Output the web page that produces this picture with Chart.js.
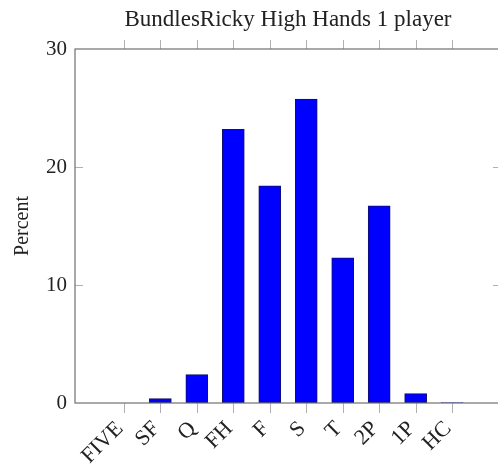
<!DOCTYPE html>
<html>
<head>
<meta charset="utf-8">
<script src="https://cdn.jsdelivr.net/npm/chart.js@4"></script>
<style>
  html, body { margin: 0; padding: 0; background: #fff; overflow: hidden; width: 498px; height: 466px; }
  canvas { display: block; }
</style>
</head>
<body>
<canvas id="chart" width="504" height="466"></canvas>
<script>
// ===== DADOS =====
const categories = ['FIVE', 'SF', 'Q', 'FH', 'F', 'S', 'T', '2P', '1P', 'HC'];
const percentValues = [0, 0.37, 2.4, 23.2, 18.4, 25.75, 12.3, 16.7, 0.8, 0.03];
const yTicks = [0, 10, 20, 30];
const chartTitle = 'BundlesRicky High Hands 1 player';

const serif = '"Liberation Serif", "DejaVu Serif", serif';
const textColor = '#222';

// Moldura, marcas de escala e titulo no estilo pgfplots
const framePlugin = {
    id: 'frame',
    afterDraw(chart) {
        const ctx = chart.ctx;
        const area = chart.chartArea;
        const x = chart.scales.x;
        const y = chart.scales.y;
        ctx.save();
        ctx.lineWidth = 1;
        ctx.strokeStyle = '#b0b0b0';
        categories.forEach((c, i) => {
            const px = Math.round(x.getPixelForValue(i)) + 0.5;
            ctx.beginPath();
            ctx.moveTo(px, area.bottom);
            ctx.lineTo(px, area.bottom + 10);
            ctx.moveTo(px, area.top);
            ctx.lineTo(px, area.top - 9);
            ctx.stroke();
        });
        yTicks.slice(1, -1).forEach(v => {
            const py = Math.round(y.getPixelForValue(v)) + 0.5;
            ctx.beginPath();
            ctx.moveTo(area.left, py);
            ctx.lineTo(area.left + 8, py);
            ctx.moveTo(area.right, py);
            ctx.lineTo(area.right - 8, py);
            ctx.stroke();
        });
        ctx.strokeStyle = '#707070';
        ctx.lineWidth = 1.2;
        ctx.strokeRect(area.left, area.top, area.right - area.left, area.bottom - area.top);

        // titulo centrado sobre a area do grafico
        ctx.fillStyle = textColor;
        ctx.font = '23px ' + serif;
        ctx.textAlign = 'center';
        ctx.textBaseline = 'alphabetic';
        ctx.fillText(chartTitle, (area.left + area.right) / 2, 26);
        ctx.restore();
    }
};

new Chart(document.getElementById('chart'), {
    type: 'bar',
    data: {
        datasets: [{
            data: percentValues.map((v, i) => ({ x: i, y: v })),
            backgroundColor: '#0000ff',
            borderColor: '#10106e',
            borderWidth: 1,
            borderSkipped: false,
            barThickness: 22
        }]
    },
    options: {
        responsive: false,
        animation: false,
        layout: { padding: { left: 0, right: 3, top: 49, bottom: 0 } },
        plugins: {
            legend: { display: false },
            tooltip: { enabled: false },
            title: { display: false }
        },
        scales: {
            x: {
                type: 'linear',
                offset: false,
                min: -1.34,
                max: 10.34,
                grid: { display: false },
                border: { display: false },
                afterBuildTicks: s => { s.ticks = categories.map((c, i) => ({ value: i })); },
                afterFit: s => { s.height = 63; },
                ticks: {
                    autoSkip: false,
                    minRotation: 45,
                    maxRotation: 45,
                    padding: 5,
                    labelOffset: -4,
                    color: textColor,
                    font: { family: serif, size: 22 },
                    callback: v => categories[v]
                }
            },
            y: {
                min: 0,
                max: 30,
                grid: { display: false },
                border: { display: false },
                afterBuildTicks: s => { s.ticks = yTicks.map(v => ({ value: v })); },
                afterFit: s => { s.width = 75; },
                ticks: {
                    padding: 0,
                    color: textColor,
                    font: { family: serif, size: 21 }
                },
                title: {
                    display: true,
                    text: 'Percent',
                    color: textColor,
                    font: { family: serif, size: 20 },
                    padding: { top: 11, bottom: 0 }
                }
            }
        }
    },
    plugins: [framePlugin]
});
</script>
</body>
</html>
